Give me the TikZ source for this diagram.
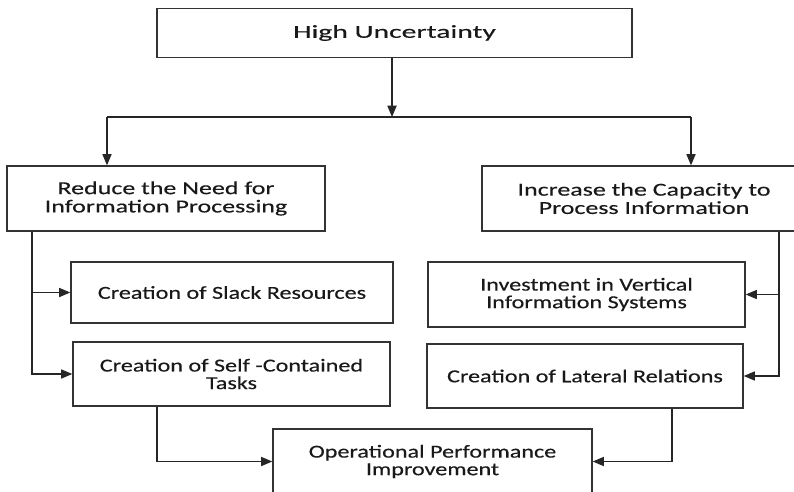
\documentclass[tikz,border=0pt]{standalone}
\usepackage{xcolor}
\usepackage{fontspec}
\setmainfont{Carlito}[FakeStretch=1.32, FakeBold=0.4]
\newfontfamily\headfont{Carlito}[FakeStretch=1.42, FakeBold=0.4]
\newfontfamily\topfont{Carlito}[FakeStretch=1.62, FakeBold=0.4]
\usepackage{tikz}
\usetikzlibrary{arrows.meta}

\begin{document}
\begin{tikzpicture}[x=0.025cm, y=-0.025cm]
    % Define styles
    \tikzstyle{block} = [rectangle, draw=black!80, line width=0.9pt, align=center, text=black!90, inner sep=0pt]
    \tikzstyle{sub} = [block, font=\fontsize{13}{12.5}\selectfont]
    \tikzstyle{branch} = [block, font=\headfont\fontsize{13}{13}\selectfont]
    \tikzstyle{arrow} = [line width=0.9pt, draw=black!85, -{Triangle[length=8pt, width=6.5pt]}]

    \useasboundingbox (0,0) rectangle (794,492);
    \clip (0,0) rectangle (794,492);

    % Nodes
    \node [block, font=\topfont\fontsize{13}{13}\selectfont, minimum width=11.875cm, minimum height=1.225cm] (top) at (394.5,33) {High Uncertainty};
    \node [branch, minimum width=7.95cm, minimum height=1.625cm] (reduce) at (166,198.5) {Reduce the Need for\\Information Processing};
    \node [branch, minimum width=8.1cm, minimum height=1.625cm] (increase) at (644,198.5) {Increase the Capacity to\\Process Information};
    \node [sub, minimum width=8.05cm, minimum height=1.525cm] (slack) at (232,292.5) {Creation of Slack Resources};
    \node [sub, minimum width=7.925cm, minimum height=1.6cm] (selfc) at (231.5,374) {Creation of Self -Contained\\Tasks};
    \node [sub, minimum width=7.925cm, minimum height=1.625cm] (vert) at (586.5,294.5) {Investment in Vertical\\Information Systems};
    \node [sub, minimum width=7.9cm, minimum height=1.6cm] (lateral) at (585,376) {Creation of Lateral Relations};
    \node [sub, minimum width=7.975cm, minimum height=1.625cm] (oper) at (432.5,461.5) {Operational Performance\\Improvement};

    % Branch points
    \coordinate (split) at (392,117);
    \coordinate (lsplit) at (107,117);
    \coordinate (rsplit) at (691,117);
    \coordinate (ltrunk) at (32,0);
    \coordinate (rtrunk) at (779,0);
    \coordinate (lfeed) at (157,0);
    \coordinate (rfeed) at (672,0);

    % Arrows
    \draw [arrow] (top.south -| split) -- (split);
    \draw [line width=0.9pt, draw=black!85] (lsplit) -- (rsplit);
    \draw [arrow] (lsplit) -- (lsplit |- reduce.north);
    \draw [arrow] (rsplit) -- (rsplit |- increase.north);
    \draw [arrow] (reduce.south -| ltrunk) |- (slack.west);
    \draw [arrow] (reduce.south -| ltrunk) |- (selfc.west);
    \draw [arrow] (increase.south -| rtrunk) |- (vert.east);
    \draw [arrow] (increase.south -| rtrunk) |- (lateral.east);
    \draw [arrow] (selfc.south -| lfeed) |- (oper.west);
    \draw [arrow] (lateral.south -| rfeed) |- (oper.east);

\end{tikzpicture}
\end{document}
